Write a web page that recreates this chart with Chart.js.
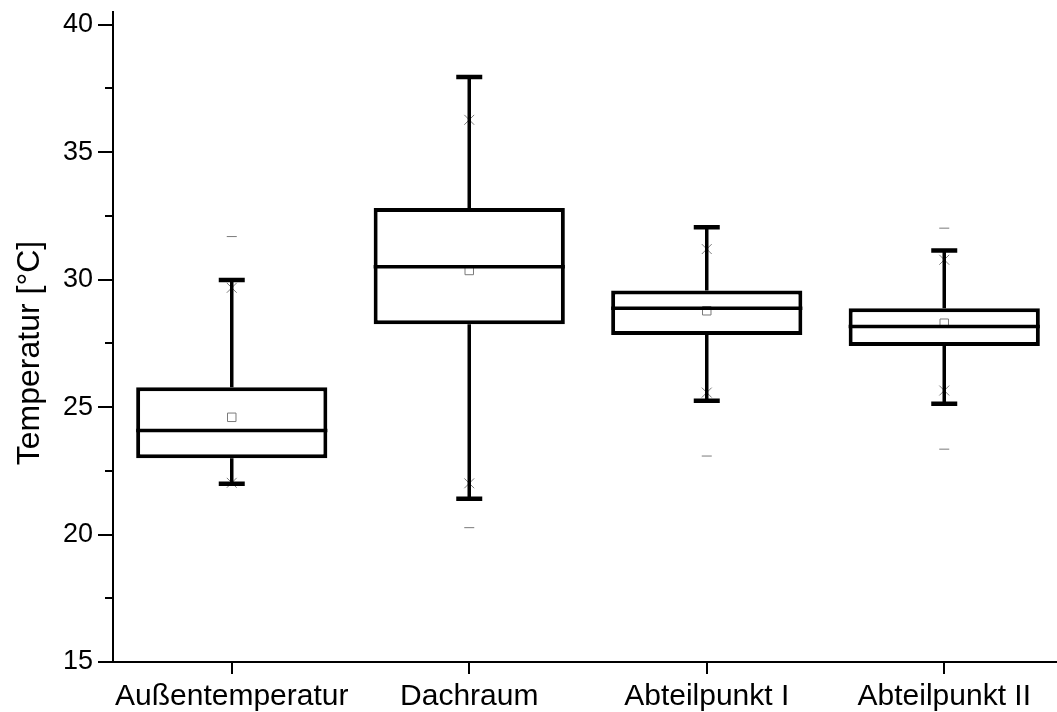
<!DOCTYPE html>
<html>
<head>
<meta charset="utf-8">
<script src="https://cdn.jsdelivr.net/npm/chart.js@4.4.1/dist/chart.umd.min.js"></script>
<style>
    html, body { margin: 0; padding: 0; background: #fff; overflow: hidden; }
    #wrap { width: 1063px; height: 712px; }
</style>
</head>
<body>
<div id="wrap"><canvas id="boxChart" width="1063" height="712"></canvas></div>
<script>
// Box plot data (°C)
const categories = ['Außentemperatur', 'Dachraum', 'Abteilpunkt I', 'Abteilpunkt II'];
const q1 = [22.99, 28.25, 27.83, 27.40];
const q3 = [25.78, 32.81, 29.57, 28.88];
const medians = [24.08, 30.51, 28.88, 28.16];
const whiskerLow = [21.99, 21.40, 25.25, 25.13];
const whiskerHigh = [29.99, 37.95, 32.06, 31.14];
const means = [24.60, 30.36, 28.78, 28.29];
const pctLow = [22.03, 22.01, 25.57, 25.65];
const pctHigh = [29.68, 36.27, 31.20, 30.78];
const minima = [21.99, 20.27, 23.08, 23.35];
const maxima = [31.69, 37.95, 32.06, 32.02];

const yMin = 15;
const yMax = 40.5;
const yStep = 2.5;
const yTitle = 'Temperatur [°C]';

const FONT = "'Liberation Sans', Arial, sans-serif";
const MARK = '#7a7a7a';

/**
 * Whiskers, caps, medians, tick marks and the y title
 */
const boxParts = {
    id: 'boxParts',
    afterDatasetsDraw(chart) {
        const { ctx, scales: { y } } = chart;
        const bars = chart.getDatasetMeta(0).data;
        ctx.save();
        ctx.strokeStyle = '#000';
        categories.forEach((cat, i) => {
            const cx = bars[i].x;
            const half = bars[i].width / 2;
            const yHi = y.getPixelForValue(whiskerHigh[i]);
            const yLo = y.getPixelForValue(whiskerLow[i]);

            ctx.lineWidth = 3.5;
            ctx.beginPath();
            ctx.moveTo(cx, y.getPixelForValue(q3[i]));
            ctx.lineTo(cx, yHi);
            ctx.moveTo(cx, y.getPixelForValue(q1[i]));
            ctx.lineTo(cx, yLo);
            ctx.stroke();

            ctx.lineWidth = 4.5;
            ctx.beginPath();
            ctx.moveTo(cx - 13, yHi);
            ctx.lineTo(cx + 13, yHi);
            ctx.moveTo(cx - 13, yLo);
            ctx.lineTo(cx + 13, yLo);
            ctx.stroke();

            const yMed = y.getPixelForValue(medians[i]);
            ctx.lineWidth = 3.5;
            ctx.beginPath();
            ctx.moveTo(cx - half, yMed);
            ctx.lineTo(cx + half, yMed);
            ctx.stroke();
        });
        ctx.restore();
    },
    afterDraw(chart) {
        const { ctx, scales: { x, y } } = chart;
        ctx.save();
        ctx.strokeStyle = '#000';
        ctx.lineWidth = 2;

        // y ticks, long on labelled values
        ctx.beginPath();
        for (let v = yMin; v <= 40; v += yStep) {
            const py = Math.round(y.getPixelForValue(v));
            const len = v % 5 === 0 ? 15 : 8;
            ctx.moveTo(y.right - len, py);
            ctx.lineTo(y.right, py);
        }
        // x ticks at the category centres
        categories.forEach((cat, i) => {
            const px = Math.round(x.getPixelForValue(i));
            ctx.moveTo(px, x.top);
            ctx.lineTo(px, x.top + 12);
        });
        ctx.stroke();

        // y title
        ctx.translate(30, 353);
        ctx.rotate(-Math.PI / 2);
        ctx.fillStyle = '#000';
        ctx.font = '32px ' + FONT;
        ctx.textAlign = 'center';
        ctx.textBaseline = 'middle';
        ctx.fillText(yTitle, 0, 0);
        ctx.restore();
    }
};

const markerSet = (label, data, style, radius) => ({
    type: 'line',
    label: label,
    data: data,
    showLine: false,
    pointStyle: style,
    pointRadius: radius,
    pointBorderWidth: 1,
    pointBorderColor: MARK,
    pointBackgroundColor: '#fff',
    order: 0
});

new Chart(document.getElementById('boxChart'), {
    type: 'bar',
    data: {
        labels: categories,
        datasets: [
            {
                label: 'Box',
                data: q1.map((lo, i) => [lo, q3[i]]),
                backgroundColor: '#fff',
                borderColor: '#000',
                borderWidth: 4,
                borderSkipped: false,
                barPercentage: 0.805,
                categoryPercentage: 1,
                order: 5
            },
            markerSet('Mittelwert', means, 'rect', 6),
            markerSet('1%', pctLow, 'crossRot', 7),
            markerSet('99%', pctHigh, 'crossRot', 7),
            markerSet('Min', minima, 'line', 5),
            markerSet('Max', maxima, 'line', 5)
        ]
    },
    options: {
        responsive: false,
        animation: false,
        layout: { autoPadding: false, padding: { top: 12, right: 0, bottom: 0, left: 0 } },
        plugins: {
            legend: { display: false },
            tooltip: { enabled: false }
        },
        scales: {
            x: {
                offset: true,
                grid: { display: false, drawTicks: false },
                border: { display: true, color: '#000', width: 2 },
                ticks: {
                    color: '#000',
                    padding: 17,
                    maxRotation: 0,
                    font: { family: FONT, size: 30 }
                },
                afterFit(scale) {
                    scale.height = 50;
                    scale.paddingLeft = 0;
                    scale.paddingRight = 0;
                }
            },
            y: {
                min: yMin,
                max: yMax,
                grid: { display: false, drawTicks: false },
                border: { display: true, color: '#000', width: 2 },
                ticks: {
                    stepSize: yStep,
                    includeBounds: false,
                    color: '#000',
                    padding: 20,
                    autoSkip: false,
                    font: { family: FONT, size: 27 },
                    callback: (v) => (v % 5 === 0 ? v : '')
                },
                afterFit(scale) {
                    scale.width = 113;
                    scale.paddingTop = 0;
                    scale.paddingBottom = 0;
                }
            }
        }
    },
    plugins: [boxParts]
});
</script>
</body>
</html>
